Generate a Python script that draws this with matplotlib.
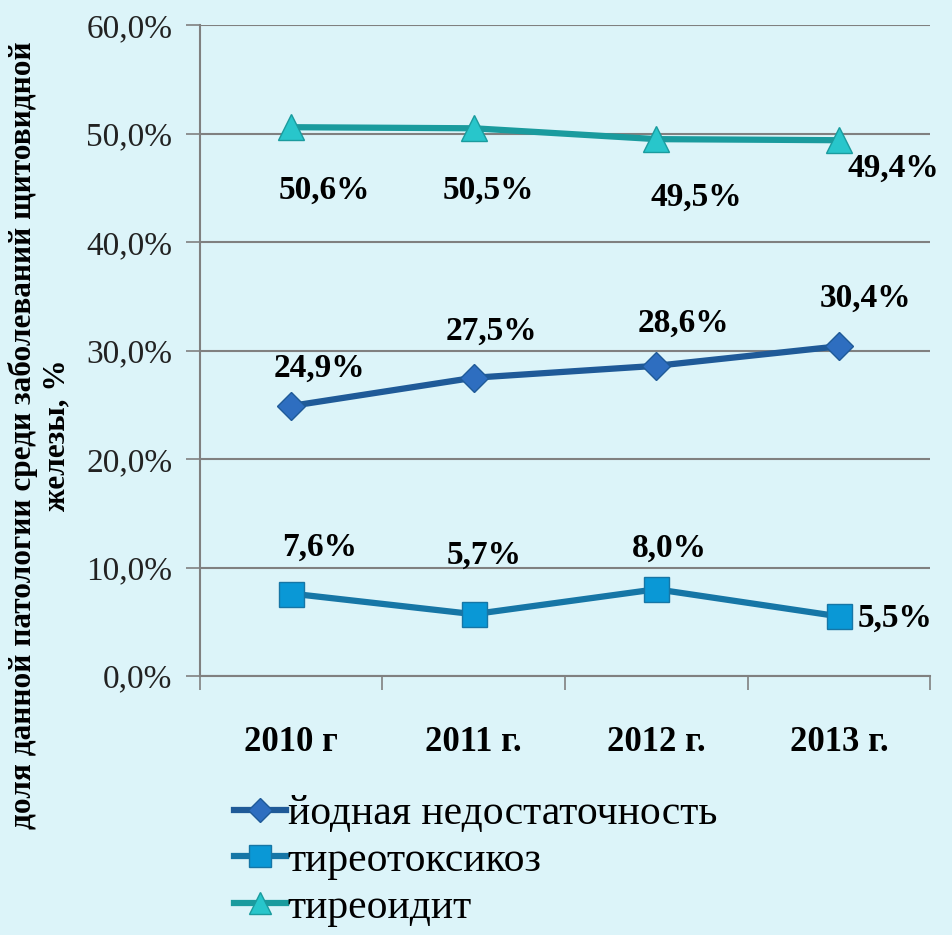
import matplotlib.pyplot as plt
from matplotlib.ticker import FixedLocator

years = ["2010 г", "2011 г.", "2012 г.", "2013 г."]
iodine = [24.9, 27.5, 28.6, 30.4]
thyrotox = [7.6, 5.7, 8.0, 5.5]
thyroiditis = [50.6, 50.5, 49.5, 49.4]
names = ["йодная недостаточность", "тиреотоксикоз", "тиреоидит"]

# label offsets in pixels relative to each point
off_iod = [(28, 38), (18, 46), (27, 43), (27, 48)]
off_tox = [(28, 46), (10, 59), (13, 41), (56, -2)]
off_thy = [(33, -63), (15, -62), (40, -58), (55, -28)]

bg = "#dcf4f9"
plt.rcParams["font.family"] = ["Liberation Serif", "DejaVu Serif"]

fig = plt.figure(figsize=(9.52, 9.35), dpi=100, facecolor=bg)
ax = fig.add_axes([0.210, 0.277, 0.767, 0.696], facecolor=bg)

x = list(range(len(years)))
ax.plot(x, iodine, color="#1f5a98", lw=4.5, marker="D", ms=14,
        mfc="#2e6ec0", mec="#1f5a98", mew=1, label=names[0], zorder=3)
ax.plot(x, thyrotox, color="#1676a6", lw=4.5, marker="s", ms=18,
        mfc="#0a98d6", mec="#1676a6", mew=1, label=names[1], zorder=3)
ax.plot(x, thyroiditis, color="#1a9b9e", lw=4.5, marker="^", ms=19,
        mfc="#28c6cb", mec="#1a9b9e", mew=1, label=names[2], zorder=3)

for vals, offs in [(iodine, off_iod), (thyrotox, off_tox), (thyroiditis, off_thy)]:
    for i, (v, o) in enumerate(zip(vals, offs)):
        ax.annotate(f"{v:.1f}%".replace(".", ","), (i, v), xytext=o,
                    textcoords="offset pixels", ha="center", va="center",
                    fontsize=24, fontweight="bold", color="black", zorder=4)

ax.set_xlim(-0.5, 3.5)
ax.set_ylim(0, 60)
ax.set_yticks(range(0, 61, 10))
ax.set_yticklabels([f"{t},0%" for t in range(0, 61, 10)], fontsize=24, color="#222222")
ax.set_xticks(x)
ax.set_xticklabels(years, fontsize=25, fontweight="bold")
ax.xaxis.set_minor_locator(FixedLocator([-0.5, 0.5, 1.5, 2.5, 3.5]))
ax.tick_params(axis="x", which="major", length=0, pad=36)
ax.tick_params(axis="x", which="minor", length=10, color="#808080", width=1.2)
ax.tick_params(axis="y", length=10, color="#808080", width=1.2, pad=10)
ax.grid(axis="y", color="#808080", lw=1.5, zorder=0)
for s in ["top", "right"]:
    ax.spines[s].set_visible(False)
for s in ["left", "bottom"]:
    ax.spines[s].set_color("#808080")
    ax.spines[s].set_linewidth(1.5)

fig.text(0.042, 0.535, "доля данной патологии среди заболеваний щитовидной\nжелезы, %",
         rotation=90, ha="center", va="center", ma="center",
         fontsize=22.5, fontweight="bold", linespacing=1.2)

fig.legend(loc="upper left", bbox_to_anchor=(0.228, 0.168), frameon=False,
           fontsize=30, handlelength=1.25, handletextpad=0.05, labelspacing=0.2,
           borderaxespad=0, markerscale=0.85)

fig.savefig("out.png", dpi=100, facecolor=bg)
